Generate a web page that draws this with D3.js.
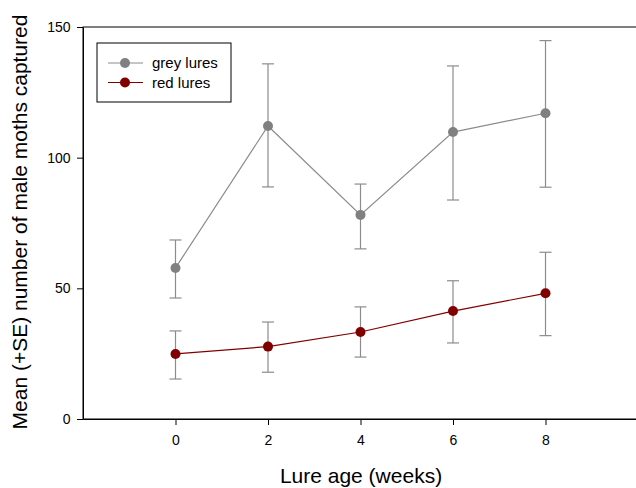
<!DOCTYPE html>
<html>
<head>
<meta charset="utf-8">
<script src="https://cdn.jsdelivr.net/npm/d3@7"></script>
<style>
body { margin: 0; background: #fff; }
svg { display: block; font-family: "Liberation Sans", Arial, sans-serif; }
</style>
</head>
<body>
<svg id="chart" width="636" height="488"></svg>
<script>
var weeks = [0, 2, 4, 6, 8];
var greyMean = [57.8, 112.1, 78.1, 109.8, 117.0];
var greyHigh = [68.5, 135.9, 89.9, 135.1, 144.8];
var greyLow = [46.3, 88.8, 65.1, 83.8, 88.7];
var redMean = [24.9, 27.7, 33.3, 41.3, 48.1];
var redHigh = [33.7, 37.1, 42.9, 52.9, 63.8];
var redLow = [15.3, 17.9, 23.7, 29.1, 31.9];
var yTicks = [0, 50, 100, 150];
var seriesNames = ["grey lures", "red lures"];

var svg = d3.select("#chart");
var plotLeft = 83, plotRight = 638, plotTop = 27, plotBottom = 419;

var x = d3.scaleLinear().domain([-2, 10]).range([plotLeft, plotRight]);
var y = d3.scaleLinear().domain([0, 150]).range([plotBottom, plotTop]);

var series = [
	{ name: seriesNames[0], mean: greyMean, hi: greyHigh, lo: greyLow, color: "#808080", line: "#8c8c8c" },
	{ name: seriesNames[1], mean: redMean, hi: redHigh, lo: redLow, color: "#800000", line: "#800000" }
];

// frame
svg.append("rect")
	.attr("x", plotLeft).attr("y", plotTop)
	.attr("width", plotRight - plotLeft).attr("height", plotBottom - plotTop)
	.attr("fill", "none").attr("stroke", "#000").attr("stroke-width", 1);

var xAxis = svg.append("g")
	.attr("transform", "translate(0," + plotBottom + ")")
	.call(d3.axisBottom(x).tickValues(weeks).tickSize(6).tickSizeOuter(0));
var yAxis = svg.append("g")
	.attr("transform", "translate(" + plotLeft + ",0)")
	.call(d3.axisLeft(y).tickValues(yTicks).tickSize(6).tickSizeOuter(0));

[xAxis, yAxis].forEach(function(a) {
	a.select(".domain").attr("stroke", "#000");
	a.selectAll("line").attr("stroke", "#000");
	a.selectAll("text").attr("font-size", 14).attr("fill", "#000")
		.attr("font-family", "Liberation Sans, Arial, sans-serif");
});
xAxis.selectAll("text").attr("dy", "1.2em");
yAxis.selectAll("text").attr("dx", "-0.25em");

svg.append("text")
	.attr("x", 361).attr("y", 483)
	.attr("text-anchor", "middle").attr("font-size", 21)
	.text("Lure age (weeks)");

svg.append("text")
	.attr("transform", "translate(27,222) rotate(-90)")
	.attr("text-anchor", "middle").attr("font-size", 21)
	.text("Mean (+SE) number of male moths captured");

var line = d3.line()
	.x(function(d, i) { return x(weeks[i]); })
	.y(function(d) { return y(d); });

series.forEach(function(s) {
	var g = svg.append("g");
	// error bars
	weeks.forEach(function(w, i) {
		var cx = x(w);
		g.append("line").attr("x1", cx).attr("x2", cx)
			.attr("y1", y(s.hi[i])).attr("y2", y(s.lo[i]))
			.attr("stroke", "#8c8c8c").attr("stroke-width", 1.2);
		[s.hi[i], s.lo[i]].forEach(function(v) {
			g.append("line").attr("x1", cx - 6).attr("x2", cx + 6)
				.attr("y1", y(v)).attr("y2", y(v))
				.attr("stroke", "#8c8c8c").attr("stroke-width", 1.2);
		});
	});
	g.append("path").datum(s.mean)
		.attr("d", line).attr("fill", "none")
		.attr("stroke", s.line).attr("stroke-width", 1.2);
	g.selectAll("circle").data(s.mean).enter().append("circle")
		.attr("cx", function(d, i) { return x(weeks[i]); })
		.attr("cy", function(d) { return y(d); })
		.attr("r", 5).attr("fill", s.color);
});

// legend
var lg = svg.append("g");
lg.append("rect").attr("x", 97).attr("y", 43).attr("width", 134).attr("height", 59)
	.attr("fill", "#fff").attr("stroke", "#000").attr("stroke-width", 1);
series.forEach(function(s, i) {
	var ly = 63 + i * 19.5;
	lg.append("line").attr("x1", 108).attr("x2", 143).attr("y1", ly).attr("y2", ly)
		.attr("stroke", s.line).attr("stroke-width", 1.2);
	lg.append("circle").attr("cx", 125).attr("cy", ly).attr("r", 5).attr("fill", s.color);
	lg.append("text").attr("x", 152).attr("y", ly).attr("dy", "0.35em")
		.attr("font-size", 15).text(s.name);
});
</script>
</body>
</html>
